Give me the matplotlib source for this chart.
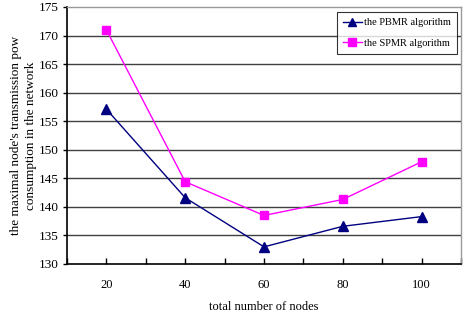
import matplotlib
matplotlib.use("Agg")
import matplotlib.pyplot as plt
import numpy as np

plt.rcParams['font.family'] = ['Liberation Serif', 'DejaVu Serif']

# node counts and max transmission power per algorithm
nodes = [20, 40, 60, 80, 100]
pbmr = [157.1, 141.6, 133.0, 136.6, 138.3]
spmr = [171.0, 144.4, 138.5, 141.3, 147.9]

fig = plt.figure(figsize=(4.63, 3.25), dpi=100)
ax = fig.add_axes([0.1447, 0.1877, 0.851, 0.7908])

ax.plot(nodes, pbmr, color='#000080', lw=1, marker='^', ms=7,
        label='the PBMR algorithm', zorder=3)
ax.plot(nodes, spmr, color='#FF00FF', lw=1, marker='s', ms=6,
        label='the SPMR algorithm', zorder=3)

ax.set_xlim(10, 110)
ax.set_ylim(130, 175)
ax.set_xticks(nodes)
ax.set_xticks(np.arange(10, 111, 10), minor=True)
ax.set_yticks(np.arange(130, 176, 5))

# horizontal grid at every y tick
for y in np.arange(135, 175, 5):
    ax.axhline(y, color='#404040', lw=1, zorder=1)

ax.tick_params(axis='x', which='both', direction='in', length=4, pad=11,
               labelsize=9, width=1)
ax.tick_params(axis='y', direction='out', length=3, pad=3, labelsize=9.5, width=1)

for s in ['left', 'bottom']:
    ax.spines[s].set_color('black')
    ax.spines[s].set_linewidth(1.2)
for s in ['top', 'right']:
    ax.spines[s].set_color('#9a9a9a')
    ax.spines[s].set_linewidth(1)

ax.set_xlabel('total number of nodes', fontsize=9, labelpad=7)
ax.set_ylabel("the maximal node's transmission pow\nconsumption in the network",
              fontsize=9.5, labelpad=1, linespacing=1.35)

leg = ax.legend(loc='upper right', bbox_to_anchor=(0.99, 0.98), fontsize=7.5,
                frameon=True, fancybox=False, edgecolor='black',
                handlelength=1.8, handletextpad=0.25, borderpad=0.55,
                labelspacing=1.1, borderaxespad=0, markerscale=0.85)
leg.get_frame().set_linewidth(0.8)

fig.savefig('out.png', dpi=100)
